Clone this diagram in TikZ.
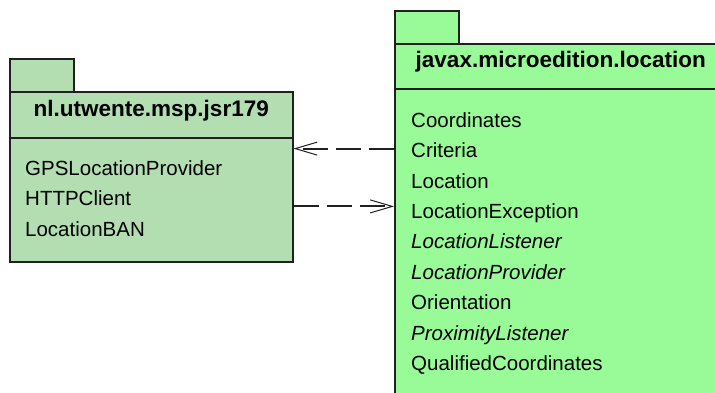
\documentclass[tikz,border=0pt]{standalone}
\usepackage{fontspec}
\setmainfont{Liberation Sans}
\usepackage{tikz}
\usetikzlibrary{arrows.meta, positioning}

\definecolor{pkggreen}{RGB}{178,222,178}
\definecolor{apigreen}{RGB}{152,251,152}
\definecolor{pkgline}{RGB}{32,32,32}

\begin{document}
\begin{tikzpicture}[x=1pt, y=-1pt,
    pkgbox/.style={rectangle, draw=pkgline, line width=1.5pt, fill=#1, anchor=north west, inner sep=0pt},
    pkgtitle/.style={font=\bfseries\fontsize{22.5}{26}\selectfont, anchor=base, inner sep=0pt},
    member/.style={font=\fontsize{20.5}{24}\selectfont, inner sep=0pt, text height=24pt, text depth=6pt},
    iface/.style={member, font=\itshape\fontsize{20.5}{24}\selectfont},
    dep/.style={draw=pkgline, line width=2pt, dash pattern=on 25pt off 8pt, -{Straight Barb[length=22pt, width=13pt, line width=1pt]}}]
    \useasboundingbox (0,0) rectangle (715,392);
    \clip (0,0) rectangle (715,392);

    % nl.utwente.msp.jsr179
    \node [pkgbox=pkggreen, minimum width=64pt, minimum height=33pt] (jsrtab) at (9,58) {};
    \node [pkgbox=pkggreen, minimum width=283pt, minimum height=46pt] (jsrhead) at (9,91) {};
    \node [pkgbox=pkggreen, minimum width=283pt, minimum height=124pt] (jsrbody) at (9,137) {};
    \node [pkgtitle] (jsrtitle) at ([yshift=22pt]jsrhead.south) {nl.utwente.msp.jsr179};
    \node [member, below right=14pt and 16pt of jsrbody.north west] (gps) {GPSLocationProvider};
    \node [member, below=0pt of gps.south west, anchor=north west] (http) {HTTPClient};
    \node [member, below=0pt of http.south west, anchor=north west] (ban) {LocationBAN};

    % javax.microedition.location
    \node [pkgbox=apigreen, minimum width=64pt, minimum height=33pt] (loctab) at (394,10) {};
    \node [pkgbox=apigreen, minimum width=332pt, minimum height=45pt] (lochead) at (394,43) {};
    \node [pkgbox=apigreen, minimum width=332pt, minimum height=330pt] (locbody) at (394,88) {};
    \node [pkgtitle] (loctitle) at ([yshift=22pt]lochead.south) {javax.microedition.location};
    \node [member, below right=15pt and 17pt of locbody.north west] (coord) {Coordinates};
    \node [member, below=0pt of coord.south west, anchor=north west] (crit) {Criteria};
    \node [member, below=0pt of crit.south west, anchor=north west] (loc) {Location};
    \node [member, below=0pt of loc.south west, anchor=north west] (locexc) {LocationException};
    \node [iface, below=0pt of locexc.south west, anchor=north west] (loclis) {LocationListener};
    \node [iface, below=0pt of loclis.south west, anchor=north west] (locprov) {LocationProvider};
    \node [member, below=0pt of locprov.south west, anchor=north west] (orient) {Orientation};
    \node [iface, below=0pt of orient.south west, anchor=north west] (proxlis) {ProximityListener};
    \node [member, below=0pt of proxlis.south west, anchor=north west] (qcoord) {QualifiedCoordinates};

    % dependencies
    \coordinate (usesat) at ([yshift=3pt]locexc.west);
    \path [dep] (crit.west -| locbody.west) -- (crit.west -| jsrbody.east);
    \path [dep] (usesat -| jsrbody.east) -- (usesat -| locbody.west);
\end{tikzpicture}
\end{document}
